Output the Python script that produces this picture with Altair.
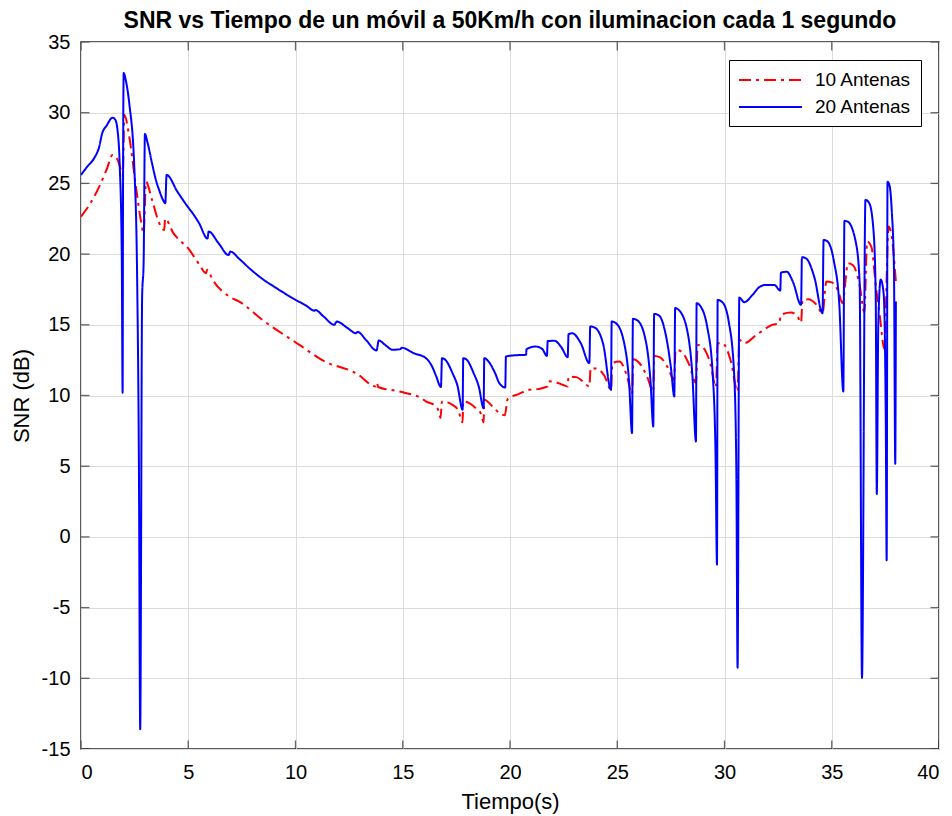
import altair as alt
import pandas as pd

# ---- data ----
t_20 = [0, 0.3, 0.62, 0.85, 0.98, 1.2, 1.47, 1.6, 1.7, 1.8, 1.9, 1.94, 1.96, 1.99, 2.1, 2.25, 2.49,
        2.62, 2.7, 2.76, 2.85, 2.92, 2.98, 3.1, 3.3, 3.5, 3.65, 3.8, 3.93, 3.99, 4.5, 5.0, 5.2, 5.5,
        5.9, 5.95, 6.4, 6.88, 6.96, 7.38, 7.85, 8.5, 9.0, 9.87, 10.5, 10.88, 10.92, 11.3, 11.81,
        11.92, 12.4, 12.82, 12.9, 13.3, 13.78, 13.88, 14.2, 14.53, 14.89, 14.95, 15.5, 16.08, 16.35,
        16.55, 16.78, 16.83, 17.0, 17.32, 17.55, 17.79, 17.82, 18.0, 18.3, 18.55, 18.77, 18.8, 19.0,
        19.3, 19.5, 19.78, 19.81, 20.3, 20.75, 20.77, 21.2, 21.5, 21.72, 21.76, 22.07, 22.4, 22.69,
        22.73, 22.9, 23.3, 23.7, 23.74, 23.95, 24.35, 24.71, 24.74, 24.95, 25.35, 25.55, 25.69,
        25.73, 25.95, 26.35, 26.55, 26.68, 26.72, 26.95, 27.3, 27.5, 27.66, 27.7, 27.9, 28.3, 28.5,
        28.67, 28.7, 28.83, 29.2, 29.45, 29.58, 29.65, 29.68, 29.9, 30.2, 30.45, 30.55, 30.61,
        30.69, 30.92, 31.31, 31.62, 31.93, 32.32, 32.6, 32.63, 32.9, 33.2, 33.57, 33.61, 33.8,
        34.2, 34.57, 34.62, 34.8, 35.1, 35.35, 35.54, 35.59, 35.74, 36.13, 36.3, 36.41, 36.57,
        36.75, 36.95, 37.05, 37.1, 37.17, 37.28, 37.42, 37.52, 37.56, 37.6, 37.7, 37.8, 37.9,
        37.96, 37.99]
snr_20 = [25.6, 26.2, 26.8, 27.6, 28.5, 29.1, 29.65, 29.5, 28.8, 26.5, 20, 10.2, 25, 32.8, 32.2,
          30.66, 25.95, 18, 5, -13.6, 17, 19.4, 28.5, 27.9, 26.5, 25.2, 24.5, 23.9, 23.6, 25.6, 24.4,
          23.3, 22.9, 22.2, 21.1, 21.6, 20.8, 19.94, 20.18, 19.66, 19.0, 18.2, 17.7, 16.88, 16.35,
          16.0, 16.05, 15.6, 15.0, 15.23, 14.8, 14.41, 14.5, 13.9, 13.18, 13.89, 13.55, 13.23,
          13.28, 13.38, 13.0, 12.64, 12.1, 11.4, 10.6, 12.64, 12.5, 11.58, 10.7, 9.0, 12.64, 12.5,
          11.6, 10.6, 9.1, 12.64, 12.4, 11.6, 10.88, 10.57, 12.76, 12.85, 12.88, 13.28, 13.46, 13.3,
          12.8, 13.85, 13.87, 13.4, 12.71, 14.34, 14.4, 13.7, 12.29, 14.88, 14.8, 13.6, 10.4, 15.23,
          15.1, 13.5, 11, 7.34, 15.42, 15.3, 13.7, 11, 7.8, 15.77, 15.65, 14, 12, 9.93, 16.18, 16.0,
          14.3, 11.5, 6.75, 16.53, 16.41, 14.8, 11.5, 6, -1.96, 16.76, 16.6, 15.2, 11.5, 5, -9.26,
          16.93, 16.6, 17.12, 17.66, 17.82, 17.82, 17.42, 18.69, 18.75, 18.0, 16.41, 19.78, 19.7,
          18.3, 15.82, 21.0, 20.9, 19.5, 16.5, 10.28, 22.35, 22.3, 20.77, 18, -9.97, 23.83, 23.6,
          21.6, 17, 3.03, 15, 18.2, 17.2, 8, -1.66, 25.12, 24.8, 23.0, 19, 5.17, 16.64]

t_10 = [0, 0.4, 0.85, 1.2, 1.47, 1.71, 1.85, 1.95, 2.02, 2.25, 2.56, 2.8, 2.92, 3.03, 3.3, 3.65,
        3.88, 3.92, 4.3, 5.05, 5.5, 5.83, 5.88, 6.14, 6.91, 7.38, 8.5, 9.94, 10.18, 11.73, 11.9,
        12.82, 13.75, 13.8, 13.85, 14.84, 15.93, 16.08, 16.5, 16.7, 16.76, 16.83, 17.32, 17.6,
        17.79, 17.82, 18.41, 18.65, 18.77, 18.8, 19.2, 19.5, 19.76, 19.89, 20.4, 20.9, 21.3, 21.75,
        21.8, 22.1, 22.45, 22.69, 22.73, 23.1, 23.4, 23.7, 23.76, 24.05, 24.4, 24.71, 24.77, 25.1,
        25.45, 25.69, 25.75, 26.03, 26.4, 26.67, 26.73, 27.0, 27.35, 27.65, 27.72, 28.0, 28.35,
        28.67, 28.75, 29.0, 29.35, 29.6, 29.68, 29.9, 30.3, 30.61, 30.69, 30.92, 31.5, 32.24,
        32.55, 32.63, 33.1, 33.4, 33.57, 33.64, 33.9, 34.3, 34.57, 34.75, 35.0, 35.3, 35.5, 35.76,
        36.0, 36.3, 36.52, 36.65, 36.85, 37.06, 37.25, 37.45, 37.65, 37.8, 37.99]
snr_10 = [22.65, 23.5, 24.77, 26.0, 27.0, 26.66, 26.0, 25.6, 29.84, 28.3, 24.77, 22.3, 21.48, 25.12,
          23.9, 22.18, 21.7, 22.5, 21.5, 20.3, 19.3, 18.65, 18.9, 18.18, 17.0, 16.64, 15.3, 13.82,
          13.58, 12.17, 12.1, 11.58, 10.64, 10.9, 10.6, 10.28, 9.75, 9.58, 9.3, 8.76, 8.4, 9.58,
          9.34, 8.9, 8.1, 9.58, 9.1, 8.7, 8.1, 9.7, 9.2, 8.76, 8.6, 9.75, 10.1, 10.4, 10.45, 10.64,
          11.0, 10.95, 10.76, 10.64, 11.34, 11.3, 11.0, 10.64, 11.94, 11.9, 11.4, 10.4, 12.29, 12.4,
          11.4, 10.1, 12.57, 12.3, 11.3, 10.3, 12.8, 12.7, 12.0, 11.1, 13.23, 13.1, 12.2, 10.9,
          13.58, 13.4, 12.2, 10.6, 13.7, 13.7, 12.4, 10.3, 13.94, 13.7, 14.3, 15.0, 15.12, 15.7,
          15.87, 15.6, 15.15, 16.76, 16.8, 16.4, 15.82, 18.06, 18.0, 17.4, 16.53, 19.36, 19.2, 17.8,
          15.9, 20.89, 20.5, 17.7, 15.5, 13.3, 21.95, 21.2, 18.06]

series_names = ["10 Antenas", "20 Antenas"]
series_colors = ["#ff0000", "#0000ff"]
x_domain = [0, 40]
y_domain = [-15, 35]
x_ticks = [0, 5, 10, 15, 20, 25, 30, 35, 40]
y_ticks = [-15, -10, -5, 0, 5, 10, 15, 20, 25, 30, 35]

df = pd.concat([
    pd.DataFrame({"t": t_10, "snr": snr_10, "serie": series_names[0], "o": range(len(t_10))}),
    pd.DataFrame({"t": t_20, "snr": snr_20, "serie": series_names[1], "o": range(len(t_20))}),
])

# tick positions on the frame edges (MATLAB-style box with inward ticks)
xt_df = pd.DataFrame({"t": x_ticks * 2, "snr": [y_domain[0]] * len(x_ticks) + [y_domain[1]] * len(x_ticks)})
yt_df = pd.DataFrame({"snr": y_ticks * 2, "t": [x_domain[0]] * len(y_ticks) + [x_domain[1]] * len(y_ticks)})

W, H = 858, 707
FONT = "Liberation Sans"
xs = alt.Scale(domain=x_domain, nice=False, zero=False)
ys = alt.Scale(domain=y_domain, nice=False, zero=False)

X_AX = alt.Axis(values=x_ticks, orient="bottom", tickSize=0, domain=False, grid=True,
                labelPadding=13, titlePadding=9, labelExpr="datum.value")
Y_AX = alt.Axis(values=y_ticks, orient="left", tickSize=0, domain=False, grid=True,
                labelPadding=11, titlePadding=8, labelExpr="datum.value")

lines = alt.Chart(df).mark_line(strokeWidth=2, clip=True, interpolate="monotone").encode(
    x=alt.X("t:Q", scale=xs, title="Tiempo(s)", axis=X_AX),
    y=alt.Y("snr:Q", scale=ys, title="SNR (dB)", axis=Y_AX),
    color=alt.Color("serie:N", scale=alt.Scale(domain=series_names, range=series_colors),
                    legend=alt.Legend(title=None)),
    strokeDash=alt.StrokeDash("serie:N",
                              scale=alt.Scale(domain=series_names, range=[[12, 5, 3, 5], [1, 0]]),
                              legend=alt.Legend(title=None)),
    order="o:Q",
)

xticks_layer = alt.Chart(xt_df).mark_tick(orient="vertical", size=17, thickness=1.3,
                                          color="#262626", clip=True).encode(
    x=alt.X("t:Q", scale=xs, title="Tiempo(s)", axis=X_AX),
    y=alt.Y("snr:Q", scale=ys, title="SNR (dB)", axis=Y_AX),
)
yticks_layer = alt.Chart(yt_df).mark_tick(orient="horizontal", size=17, thickness=1.3,
                                          color="#262626", clip=True).encode(
    x=alt.X("t:Q", scale=xs, title="Tiempo(s)", axis=X_AX),
    y=alt.Y("snr:Q", scale=ys, title="SNR (dB)", axis=Y_AX),
)

chart = alt.layer(xticks_layer, yticks_layer, lines).properties(
    width=W, height=H,
    title=alt.Title("SNR vs Tiempo de un móvil a 50Km/h con iluminacion cada 1 segundo",
                    fontSize=23, fontWeight="bold", font=FONT, color="#000000", offset=1, dy=2),
    autosize=alt.AutoSizeParams(type="none"),
    padding={"left": 73, "top": 34, "right": 5, "bottom": 66},
).configure_view(
    stroke="#262626", strokeWidth=1.5
).configure_axis(
    labelFont=FONT, titleFont=FONT, labelFontSize=20, titleFontSize=22,
    labelColor="#000000", titleColor="#000000", titleFontWeight="normal",
    gridColor="#dcdcdc", gridWidth=1, gridOpacity=1
).configure_legend(
    orient="top-right", offset=18, strokeColor="#000000", fillColor="#ffffff",
    padding=9, labelFont=FONT, labelFontSize=19, labelColor="#000000",
    symbolType="M-1,0H5.3", symbolSize=400, symbolStrokeWidth=2, labelOffset=55,
    rowPadding=6, cornerRadius=0
)

chart.save("out.html", embed_options={"renderer": "svg", "actions": False})
